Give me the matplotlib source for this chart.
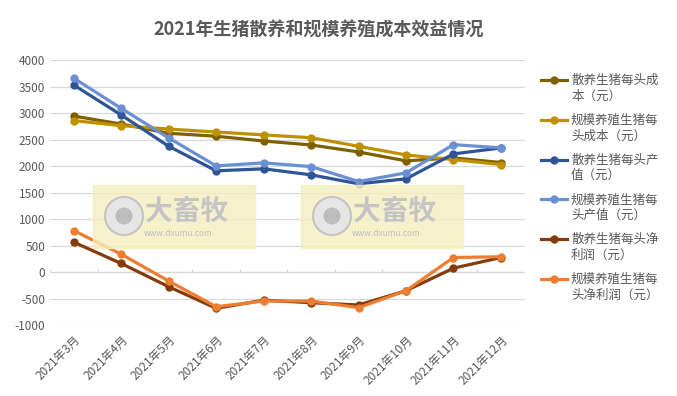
import matplotlib.pyplot as plt
from matplotlib.lines import Line2D
from matplotlib.patches import Rectangle, Ellipse

plt.rcParams['font.family'] = ['Noto Sans CJK SC', 'DejaVu Sans']
plt.rcParams['axes.unicode_minus'] = False

months = ['2021年3月', '2021年4月', '2021年5月', '2021年6月', '2021年7月',
          '2021年8月', '2021年9月', '2021年10月', '2021年11月', '2021年12月']

san_cost = [2945, 2795, 2620, 2565, 2475, 2400, 2268, 2100, 2156, 2068]
gm_cost = [2860, 2765, 2700, 2645, 2590, 2537, 2375, 2212, 2124, 2030]
san_value = [3530, 2965, 2375, 1912, 1950, 1836, 1667, 1761, 2231, 2344]
gm_value = [3660, 3090, 2532, 2005, 2062, 1992, 1710, 1874, 2406, 2346]
san_profit = [564, 163, -276, -683, -530, -577, -620, -351, 75, 276]
gm_profit = [783, 338, -169, -652, -545, -545, -671, -351, 276, 290]

series = [
    ('散养生猪每头成\n本（元）', san_cost, '#7F6000'),
    ('规模养殖生猪每\n头成本（元）', gm_cost, '#BF9000'),
    ('散养生猪每头产\n值（元）', san_value, '#2F5597'),
    ('规模养殖生猪每\n头产值（元）', gm_value, '#6A8FD3'),
    ('散养生猪每头净\n利润（元）', san_profit, '#843C0C'),
    ('规模养殖生猪每\n头净利润（元）', gm_profit, '#ED7D31'),
]

W, H = 677, 396
fig = plt.figure(figsize=(6.77, 3.96), dpi=100)
ax = fig.add_axes([0.074, 0.179, 0.701, 0.669])

# 水印
for x0 in [93, 301]:
    fig.patches.append(Rectangle((x0 / W, 1 - 248 / H), 162 / W, 63 / H,
                                 transform=fig.transFigure, color='#F5EEBE',
                                 alpha=0.8, zorder=0))
    fig.patches.append(Ellipse(((x0 + 31) / W, 1 - 216 / H), 38 / W, 38 / H,
                               transform=fig.transFigure, facecolor='#E6E6E6',
                               edgecolor='#C4C4C4', lw=1.5, zorder=0.5))
    fig.patches.append(Ellipse(((x0 + 31) / W, 1 - 216 / H), 17 / W, 17 / H,
                               transform=fig.transFigure, facecolor='#BDBDBD',
                               edgecolor='none', zorder=0.6))
    fig.text((x0 + 52) / W, 1 - 212 / H, '大畜牧', fontsize=20, color='#C4C4C4',
             fontweight='bold', va='center', ha='left', zorder=0.5)
    fig.text((x0 + 51) / W, 1 - 234 / H, 'www.dxumu.com', fontsize=6,
             color='#BDBDBD', va='center', ha='left', zorder=0.5)
ax.patch.set_alpha(0)

x = list(range(len(months)))
for name, vals, color in series:
    ax.plot(x, vals, color=color, lw=2.3, marker='o', markersize=5, label=name,
            zorder=3)

ax.set_xlim(-0.5, len(months) - 0.5)
ax.set_ylim(-1000, 4000)
ax.set_yticks(range(-1000, 4001, 500))
ax.grid(axis='y', color='#D9D9D9', lw=0.9)
ax.set_axisbelow(True)
for s in ax.spines.values():
    s.set_visible(False)
ax.axhline(0, color='#D9D9D9', lw=0.9, zorder=1)
ax.vlines([i - 0.5 for i in range(len(months) + 1)], 0, 60, color='#D9D9D9',
          lw=0.9, zorder=1)

ax.set_xticks(x)
ax.set_xticklabels(months, rotation=45, ha='right', rotation_mode='anchor')
ax.tick_params(axis='both', length=0, labelsize=8.5, labelcolor='#595959')
ax.tick_params(axis='x', pad=6)

fig.text(0.47, 0.925, '2021年生猪散养和规模养殖成本效益情况', ha='center', va='center',
         fontsize=13, fontweight='bold', color='#595959')

# 图例
for i, (name, vals, color) in enumerate(series):
    yy = 1 - (80 + i * 39.8) / H
    fig.add_artist(Line2D([541 / W, 567 / W], [yy, yy], color=color, lw=2.3,
                          transform=fig.transFigure))
    fig.add_artist(Line2D([554 / W], [yy], color=color, marker='o', markersize=5,
                          transform=fig.transFigure))
    fig.text(571 / W, yy + 6 / H, name, fontsize=9, color='#595959',
             va='top', ha='left', linespacing=1.25)

fig.savefig('out.png', dpi=100)
